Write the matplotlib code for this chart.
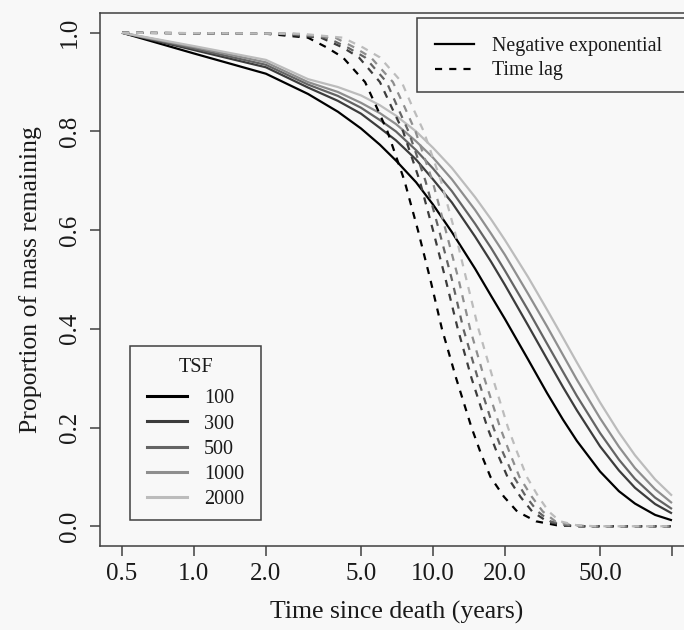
import matplotlib
matplotlib.use("Agg")
import matplotlib.pyplot as plt
from matplotlib.lines import Line2D
from matplotlib.patches import Rectangle

plt.rcParams['font.family'] = ['Liberation Serif', 'DejaVu Serif']

# ---------------- data ----------------
tsf_labels = ["100", "300", "500", "1000", "2000"]
tsf_colors = ["#000000", "#3c3c3c", "#646464", "#8e8e8e", "#bcbcbc"]

# Negative exponential model: time (years) and proportion remaining
negexp_t = [0.5, 1, 2, 3, 4, 5, 6, 7, 8.5, 10, 12, 15, 17.5, 20, 25, 30, 35, 40, 50, 60, 70, 85, 100]
negexp_100 = [1.0, 0.958, 0.917, 0.876, 0.840, 0.806, 0.773, 0.741, 0.697, 0.652, 0.596, 0.522, 0.467, 0.420,
              0.338, 0.270, 0.216, 0.173, 0.111, 0.071, 0.046, 0.023, 0.012]
negexp_300 = [1.0, 0.965, 0.930, 0.889, 0.862, 0.836, 0.807, 0.782, 0.743, 0.703, 0.656, 0.587, 0.536, 0.489,
              0.407, 0.339, 0.282, 0.235, 0.162, 0.113, 0.078, 0.045, 0.026]
negexp_500 = [1.0, 0.968, 0.935, 0.895, 0.872, 0.848, 0.823, 0.800, 0.762, 0.725, 0.679, 0.613, 0.564, 0.518,
              0.438, 0.370, 0.313, 0.264, 0.189, 0.135, 0.096, 0.058, 0.035]
negexp_1000 = [1.0, 0.971, 0.940, 0.900, 0.880, 0.858, 0.837, 0.815, 0.780, 0.747, 0.703, 0.641, 0.593, 0.550,
               0.471, 0.405, 0.347, 0.297, 0.219, 0.161, 0.118, 0.075, 0.047]
negexp_2000 = [1.0, 0.973, 0.945, 0.906, 0.890, 0.873, 0.853, 0.832, 0.800, 0.767, 0.726, 0.667, 0.622, 0.580,
               0.505, 0.439, 0.382, 0.332, 0.251, 0.190, 0.144, 0.095, 0.062]

# Time lag model: proportion remaining levels and the times at which each curve reaches them
lag_v = [1.0, 0.998, 0.99, 0.97, 0.95, 0.90, 0.85, 0.80, 0.70, 0.60, 0.50, 0.40, 0.30, 0.20, 0.15,
         0.10, 0.06, 0.03, 0.01, 0.002, 0.0, 0.0]
lag_t_100 = [0.5, 2.0, 3.0, 3.6, 4.2, 5.2, 5.8, 6.45, 7.6, 8.65, 9.75, 10.9, 12.5, 14.5, 15.8, 17.4, 19.8,
             22.5, 27, 33, 40, 100]
lag_t_300 = [0.5, 2.2, 3.4, 4.2, 4.9, 6.0, 6.7, 7.5, 8.8, 10.0, 11.3, 12.7, 14.5, 16.9, 18.5, 20.5, 23.2,
             26.0, 30, 35, 42, 100]
lag_t_500 = [0.5, 2.4, 3.6, 4.4, 5.2, 6.4, 7.1, 7.9, 9.3, 10.6, 12.0, 13.4, 15.4, 17.9, 19.6, 21.8, 24.5,
             27.4, 31, 36, 44, 100]
lag_t_1000 = [0.5, 2.6, 3.9, 4.7, 5.5, 6.8, 7.6, 8.45, 9.95, 11.3, 12.8, 14.3, 16.4, 19.1, 20.9, 23.0, 25.9,
              28.8, 32.5, 38, 46, 100]
lag_t_2000 = [0.5, 2.8, 4.2, 5.1, 6.0, 7.4, 8.2, 9.15, 10.8, 12.3, 13.8, 15.5, 17.8, 20.6, 22.5, 24.7, 27.6,
              30.5, 34, 40, 48, 100]

x_ticks = [0.5, 1, 2, 5, 10, 20, 50, 100]
x_ticklabels = ["0.5", "1.0", "2.0", "5.0", "10.0", "20.0", "50.0", ""]
y_ticks = [0.0, 0.2, 0.4, 0.6, 0.8, 1.0]
y_ticklabels = ["0.0", "0.2", "0.4", "0.6", "0.8", "1.0"]

negexp_series = [negexp_100, negexp_300, negexp_500, negexp_1000, negexp_2000]
lag_series = [lag_t_100, lag_t_300, lag_t_500, lag_t_1000, lag_t_2000]

# ---------------- figure ----------------
W, H = 684, 630
bg = "#f8f8f8"
txt_c = "#1a1a1a"
spine_c = "#404040"
fig = plt.figure(figsize=(W / 100, H / 100), dpi=100, facecolor=bg)
ax_l, ax_r, ax_t, ax_b = 100, 694, 13, 546
ax = fig.add_axes([ax_l / W, 1 - ax_b / H, (ax_r - ax_l) / W, (ax_b - ax_t) / H])
ax.set_facecolor(bg)

lw = 1.6
dash = (0, (3.2, 3.2))
for vals, c in zip(negexp_series, tsf_colors):
    ax.plot(negexp_t, vals, color=c, lw=lw, solid_capstyle='butt', solid_joinstyle='round')
for ts, c in zip(lag_series, tsf_colors):
    ax.plot(ts, lag_v, color=c, lw=lw, linestyle=dash, dash_capstyle='butt')

ax.set_xscale('log')
ax.set_xlim(0.40449, 123.63)
ax.set_ylim(-0.04, 1.04)
ax.set_xticks(x_ticks)
ax.set_xticklabels(x_ticklabels)
ax.xaxis.set_minor_locator(matplotlib.ticker.NullLocator())
ax.set_yticks(y_ticks)
ax.set_yticklabels(y_ticklabels, rotation=90, va='center')

for s in ax.spines.values():
    s.set_color(spine_c)
    s.set_linewidth(1.1)
ax.tick_params(axis='both', direction='out', length=7, width=1.1, color=spine_c,
               labelsize=18, labelcolor=txt_c)
ax.tick_params(axis='x', pad=5)
ax.tick_params(axis='y', pad=7)

ax.set_xlabel("Time since death (years)", fontsize=18.5, color=txt_c, labelpad=12)
ax.set_ylabel("Proportion of mass remaining", fontsize=18.5, color=txt_c, labelpad=12)


def px_rect(x0, y0, x1, y1):
    r = Rectangle((x0 / W, 1 - y1 / H), (x1 - x0) / W, (y1 - y0) / H, transform=fig.transFigure,
                  facecolor=bg, edgecolor=spine_c, lw=1.1, zorder=4, clip_on=False)
    ax.add_patch(r)


# legend: model type (top right)
px_rect(417, 18, 700, 92)
model_handles = [Line2D([], [], color='black', lw=lw),
                 Line2D([], [], color='black', lw=lw, linestyle=dash)]
fs1 = 14.3
leg1 = ax.legend(model_handles, ["Negative exponential", "Time lag"],
                 loc='upper left', bbox_to_anchor=(435 / W, 1 - 36.5 / H),
                 bbox_transform=fig.transFigure, fontsize=fs1, frameon=False, borderpad=0,
                 labelspacing=0.3, handlelength=1.97, handletextpad=0.91, borderaxespad=0)
leg1.set_zorder(5)
for t in leg1.get_texts():
    t.set_color(txt_c)
ax.add_artist(leg1)

# legend: TSF (bottom left)
px_rect(130, 346, 261, 520)
fs2 = 14.5
tsf_handles = [Line2D([], [], color=c, lw=2.2) for c in tsf_colors]
leg2 = ax.legend(tsf_handles, tsf_labels, title="TSF", title_fontsize=fs2,
                 loc='upper left', bbox_to_anchor=(147 / W, 1 - 357.5 / H),
                 bbox_transform=fig.transFigure, fontsize=fs2, frameon=False, borderpad=0,
                 labelspacing=0.3, handlelength=1.99, handletextpad=0.84, borderaxespad=0,
                 alignment='center')
leg2.set_zorder(5)
leg2._legend_box.sep = 9.2
for t in leg2.get_texts():
    t.set_color(txt_c)
leg2.get_title().set_color(txt_c)

fig.savefig("out.png", dpi=100, facecolor=bg)
